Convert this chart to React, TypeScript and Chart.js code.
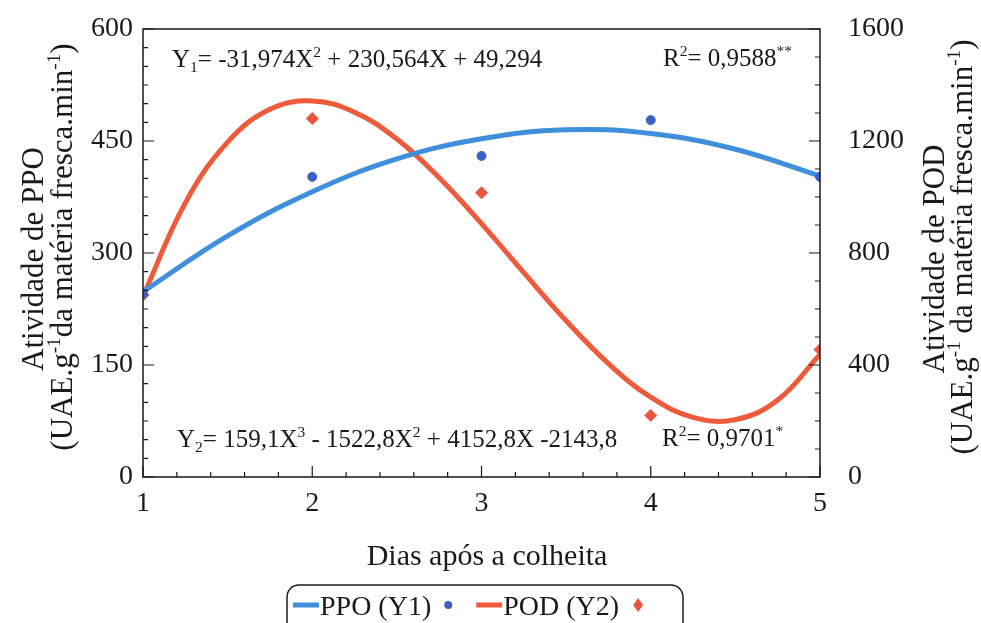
import { useEffect, useRef } from "react";
import { Chart, registerables } from "chart.js";

Chart.register(...registerables);

// ---------- data ----------
const days = [1, 2, 3, 4, 5];
const ppoObserved = [245, 402, 430, 478, 402]; // left axis
const podObserved = [650, 1280, 1015, 220, 455]; // right axis

const ppoCurveX = [1, 1.5, 2, 2.5, 3, 3.5, 4, 4.5, 5];
const ppoCurve = [248, 323, 382, 426, 453, 465, 460, 439, 403];

const podCurveX = [1, 1.25, 1.5, 1.75, 2, 2.25, 2.5, 2.75, 3, 3.25, 3.5, 3.75, 4, 4.25, 4.5, 4.75, 5];
const podCurve = [645, 979, 1196, 1313, 1343, 1303, 1207, 1069, 905, 730, 558, 405, 285, 213, 205, 275, 438];

const leftTicks = [0, 150, 300, 450, 600];
const rightTicks = [0, 400, 800, 1200, 1600];
const xTicks = [1, 2, 3, 4, 5];

const FONT = "'Liberation Serif', 'Times New Roman', serif";
const INK = "#1a1a1a";
const BLUE_LINE = "#3f8fdc";
const RED_LINE = "#ee5a3a";
const BLUE_PT = "#3b5fc6";
const RED_PT = "#e9553e";

type Seg = [string, number]; // 0 normal, 1 sup, 2 sub

function drawRich(ctx: CanvasRenderingContext2D, segs: Seg[], x: number, y: number, size: number, align: "left" | "center") {
  const parts = segs.map(([t, k]) => {
    const fs = k === 0 ? size : size * 0.62;
    ctx.font = `${fs}px ${FONT}`;
    return { t, k, fs, w: ctx.measureText(t).width };
  });
  const total = parts.reduce((a, p) => a + p.w, 0);
  let cx = align === "center" ? x - total / 2 : x;
  ctx.textAlign = "left";
  ctx.textBaseline = "alphabetic";
  for (const p of parts) {
    ctx.font = `${p.fs}px ${FONT}`;
    const dy = p.k === 1 ? -size * 0.4 : p.k === 2 ? size * 0.2 : 0;
    ctx.fillText(p.t, cx, y + dy);
    cx += p.w;
  }
  return total;
}

const decor = {
  id: "decor",
  beforeDraw(chart: any) {
    const ctx = chart.ctx as CanvasRenderingContext2D;
    ctx.save();
    ctx.fillStyle = "#ffffff";
    ctx.fillRect(0, 0, chart.width, chart.height);
    ctx.restore();
  },
  afterDraw(chart: any) {
    const ctx = chart.ctx as CanvasRenderingContext2D;
    const a = chart.chartArea;
    const xs = chart.scales.x;
    const yl = chart.scales.y;
    const yr = chart.scales.y2;
    ctx.save();
    ctx.strokeStyle = INK;
    ctx.fillStyle = INK;
    ctx.lineWidth = 1.5;
    ctx.strokeRect(a.left, a.top, a.right - a.left, a.bottom - a.top);

    ctx.lineWidth = 1.2;
    ctx.beginPath();
    // x ticks (every 0.2, major on integers)
    for (let i = 0; i <= 20; i++) {
      const v = 1 + i * 0.2;
      const px = xs.getPixelForValue(v);
      const len = i % 5 === 0 ? 11 : 5;
      ctx.moveTo(px, a.bottom);
      ctx.lineTo(px, a.bottom - len);
    }
    // left ticks (every 25, major every 150)
    for (let i = 0; i <= 24; i++) {
      const v = i * 25;
      const py = yl.getPixelForValue(v);
      const len = i % 6 === 0 ? 11 : 5;
      ctx.moveTo(a.left, py);
      ctx.lineTo(a.left + len, py);
    }
    // right ticks (every 100, major every 400)
    for (let i = 0; i <= 16; i++) {
      const v = i * 100;
      const py = yr.getPixelForValue(v);
      const len = i % 4 === 0 ? 11 : 5;
      ctx.moveTo(a.right, py);
      ctx.lineTo(a.right - len, py);
    }
    ctx.stroke();

    // equations
    const eq = 25;
    drawRich(ctx, [["Y", 0], ["1", 2], ["= -31,974X", 0], ["2", 1], [" + 230,564X + 49,294", 0]], a.left + 29, 67, eq, "left");
    drawRich(ctx, [["R", 0], ["2", 1], ["= 0,9588", 0], ["**", 1]], a.left + 520, 66, eq, "left");
    drawRich(ctx, [["Y", 0], ["2", 2], ["= 159,1X", 0], ["3", 1], [" - 1522,8X", 0], ["2", 1], [" + 4152,8X -2143,8", 0]], a.left + 34, 447, eq, "left");
    drawRich(ctx, [["R", 0], ["2", 1], ["= 0,9701", 0], ["*", 1]], a.left + 519, 446, eq, "left");

    // axis titles
    const tf = 31;
    const cy = (a.top + a.bottom) / 2;
    ctx.save();
    ctx.translate(43, cy + 6);
    ctx.rotate(-Math.PI / 2);
    drawRich(ctx, [["Atividade de PPO", 0]], 0, 0, tf, "center");
    ctx.restore();
    ctx.save();
    ctx.translate(72, cy - 6);
    ctx.rotate(-Math.PI / 2);
    drawRich(ctx, [["(UAE.g", 0], ["-1", 1], ["da matéria fresca.min", 0], ["-1", 1], [")", 0]], 0, 0, tf, "center");
    ctx.restore();
    ctx.save();
    ctx.translate(944, cy + 6);
    ctx.rotate(-Math.PI / 2);
    drawRich(ctx, [["Atividade de POD", 0]], 0, 0, tf, "center");
    ctx.restore();
    ctx.save();
    ctx.translate(972, cy - 6);
    ctx.rotate(-Math.PI / 2);
    drawRich(ctx, [["(UAE.g", 0], ["-1", 1], [" da matéria fresca.min", 0], ["-1", 1], [")", 0]], 0, 0, tf, "center");
    ctx.restore();

    drawRich(ctx, [["Dias após a colheita", 0]], 487, 565, 30, "center");

    // legend
    const lf = 28;
    ctx.font = `${lf}px ${FONT}`;
    const t1 = "PPO (Y1)";
    const t2 = "POD (Y2)";
    const w1 = ctx.measureText(t1).width;
    const w2 = ctx.measureText(t2).width;
    const sample = 26;
    const boxL = 287;
    const boxR = 683;
    const ly = 605;
    ctx.lineWidth = 1.5;
    ctx.strokeStyle = INK;
    ctx.beginPath();
    ctx.roundRect(boxL, 585, boxR - boxL, 60, 12);
    ctx.stroke();

    let x = boxL + 6;
    ctx.lineCap = "butt";
    ctx.lineWidth = 5;
    ctx.strokeStyle = BLUE_LINE;
    ctx.beginPath();
    ctx.moveTo(x, ly);
    ctx.lineTo(x + sample, ly);
    ctx.stroke();
    x += sample + 1;
    ctx.fillStyle = INK;
    ctx.textAlign = "left";
    ctx.textBaseline = "alphabetic";
    ctx.fillText(t1, x, ly + 10);
    x += w1 + 13;
    ctx.fillStyle = BLUE_PT;
    ctx.beginPath();
    ctx.arc(x + 4, ly, 4, 0, Math.PI * 2);
    ctx.fill();
    x += 8 + 24;
    ctx.strokeStyle = RED_LINE;
    ctx.beginPath();
    ctx.moveTo(x, ly);
    ctx.lineTo(x + sample, ly);
    ctx.stroke();
    x += sample + 1;
    ctx.fillStyle = INK;
    ctx.fillText(t2, x, ly + 10);
    x += w2 + 14;
    ctx.fillStyle = RED_PT;
    ctx.beginPath();
    ctx.moveTo(x + 5, ly - 7);
    ctx.lineTo(x + 10, ly);
    ctx.lineTo(x + 5, ly + 7);
    ctx.lineTo(x, ly);
    ctx.closePath();
    ctx.fill();

    ctx.restore();
  },
};

export default function App() {
  const ref = useRef<HTMLCanvasElement | null>(null);

  useEffect(() => {
    document.body.style.margin = "0";
    if (!ref.current) return;
    const tickFont = { family: FONT, size: 28 };
    const plain = (v: any) => String(v);
    const chart = new Chart(ref.current, {
      type: "line",
      data: {
        datasets: [
          {
            label: "PPO observado",
            data: days.map((d, i) => ({ x: d, y: ppoObserved[i] })),
            yAxisID: "y",
            showLine: false,
            pointStyle: "circle",
            pointRadius: 4.5,
            pointBackgroundColor: BLUE_PT,
            pointBorderColor: BLUE_PT,
            borderColor: BLUE_PT,
          },
          {
            label: "POD observado",
            data: days.map((d, i) => ({ x: d, y: podObserved[i] })),
            yAxisID: "y2",
            showLine: false,
            pointStyle: "rectRot",
            pointRadius: 6,
            pointBackgroundColor: RED_PT,
            pointBorderColor: RED_PT,
            borderColor: RED_PT,
          },
          {
            label: "PPO (Y1)",
            data: ppoCurveX.map((d, i) => ({ x: d, y: ppoCurve[i] })),
            yAxisID: "y",
            borderColor: BLUE_LINE,
            borderWidth: 5,
            pointRadius: 0,
            tension: 0.4,
            fill: false,
          },
          {
            label: "POD (Y2)",
            data: podCurveX.map((d, i) => ({ x: d, y: podCurve[i] })),
            yAxisID: "y2",
            borderColor: RED_LINE,
            borderWidth: 5,
            pointRadius: 0,
            tension: 0.4,
            fill: false,
          },
        ],
      },
      options: {
        animation: false,
        responsive: false,
        devicePixelRatio: 1,
        layout: { padding: { top: 29, left: 0, right: 0, bottom: 0 } },
        plugins: { legend: { display: false }, tooltip: { enabled: false } },
        scales: {
          x: {
            type: "linear",
            min: 1,
            max: 5,
            afterFit: (s: any) => {
              s.height = 146;
              s.paddingLeft = 0;
              s.paddingRight = 0;
            },
            afterBuildTicks: (s: any) => {
              s.ticks = xTicks.map((v) => ({ value: v }));
            },
            ticks: { font: tickFont, color: INK, padding: 10, callback: plain },
            grid: { display: false, drawTicks: false },
            border: { display: false },
          },
          y: {
            type: "linear",
            position: "left",
            min: 0,
            max: 600,
            afterFit: (s: any) => {
              s.width = 143;
              s.paddingTop = 0;
              s.paddingBottom = 0;
            },
            afterBuildTicks: (s: any) => {
              s.ticks = leftTicks.map((v) => ({ value: v }));
            },
            ticks: { font: tickFont, color: INK, padding: 10, callback: plain },
            grid: { display: false, drawTicks: false },
            border: { display: false },
          },
          y2: {
            type: "linear",
            position: "right",
            min: 0,
            max: 1600,
            afterFit: (s: any) => {
              s.width = 161;
              s.paddingTop = 0;
              s.paddingBottom = 0;
            },
            afterBuildTicks: (s: any) => {
              s.ticks = rightTicks.map((v) => ({ value: v }));
            },
            ticks: { font: tickFont, color: INK, padding: 28, callback: plain },
            grid: { display: false, drawTicks: false },
            border: { display: false },
          },
        },
      },
      plugins: [decor],
    } as any);
    return () => chart.destroy();
  }, []);

  return (
    <div style={{ width: 981, height: 623 }}>
      <canvas ref={ref} width={981} height={623} style={{ display: "block" }} />
    </div>
  );
}
